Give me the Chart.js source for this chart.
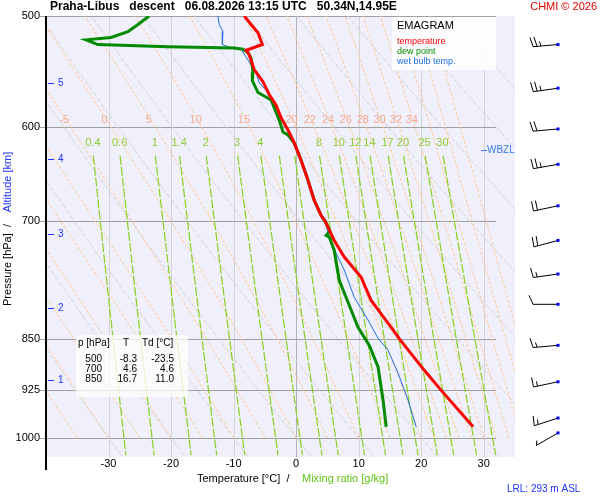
<!DOCTYPE html>
<html><head><meta charset="utf-8">
<script src="https://cdn.jsdelivr.net/npm/chart.js@4/dist/chart.umd.min.js"></script>
<style>html,body{margin:0;background:#fff}#wrap{width:600px;height:500px}</style>
</head><body><div id="wrap"><canvas id="c"></canvas></div>
<script>
// profile data: pressure [hPa], temperature [°C]
var tempP = [500,507,514,524,529,533,546,557,569,579,591,603,616,634,653,677,694,700,723,743,768,798,834,852,895,925,982];
var tempT = [-8.3,-7.2,-6.1,-5.4,-8.0,-7.5,-6.7,-5.3,-4.3,-3.2,-2.4,-1.3,-0.3,0.8,1.8,2.9,4.0,4.6,6.1,7.7,10.4,12.0,15.2,16.7,20.5,23.2,28.3];
var dewP = [500,507,513,518,520,524,526,527,528,531,536,548,556,567,574,595,605,608,616,634,653,677,694,700,712,717,719,735,772,794,834,859,890,940,982];
var dewT = [-23.5,-25.3,-26.9,-29.6,-33.6,-31.7,-20.5,-9.9,-8.5,-7.7,-7.2,-6.9,-7.0,-6.1,-4.0,-2.6,-2.1,-1.3,-0.3,0.8,1.8,2.9,4.0,4.6,5.4,4.8,5.3,6.1,6.9,8.0,9.9,11.7,13.1,13.9,14.4];
var wetP = [500,507,513,524,526,528,549,558,567,573,579,591,603,616,634,653,677,694,700,726,759,794,824,849,866,899,940,982];
var wetT = [-12.5,-12.3,-11.7,-11.8,-10.9,-8.8,-6.4,-5.9,-4.5,-4.0,-3.2,-2.4,-1.3,-0.3,0.8,1.8,2.9,4.0,4.6,5.6,7.7,9.3,11.5,13.1,14.7,16.3,17.9,19.2];

// wind barbs
var windP = [524,563,602,638,683,723,764,803,859,912,968,992];
var windDir = [265,262,265,260,258,255,262,270,265,258,252,240];
var windKt = [25,25,20,25,20,20,15,10,15,15,15,5];

// diagram furniture
var pTicks = [500,600,700,850,925,1000];
var tTicks = [-30,-20,-10,0,10,20,30];
var thetaW = [-40,-35,-30,-25,-20,-15,-10,-5,0,5,10,15,20,22,24,26,28,30,32,34,36,38,40];
var thetaWLabels = [-5,0,5,10,15,20,22,24,26,28,30,32,34];
var theta = [-30,-20,-10,0,10,20,30,40,50,60,70,80,90];
var mixRatio = [0.4,0.6,1,1.4,2,3,4,5,6,8,10,12,14,17,20,25,30];
var altKm = [1,2,3,4,5];
var altP = [909,808,715,632,558];
var tableRows = [['500','-8.3','-23.5'],['700','4.6','4.6'],['850','16.7','11.0']];

function es(tc) { return 6.112 * Math.exp(17.67 * tc / (tc + 243.5)); }
function moistLine(tw) {
    var pts = [], T = tw + 273.15, p = 1000;
    pts.push({x: tw, y: 1000});
    while (p > 500) {
        var e = es(T - 273.15), rs = 0.622 * e / (p - e);
        var dTdp = (287 * T + 2.5e6 * rs) / (1005 + 2.5e6 * 2.5e6 * rs * 0.622 / (287 * T * T)) / p;
        T -= dTdp * 5; p -= 5;
        pts.push({x: T - 273.15, y: p});
    }
    return pts;
}
function dryLine(th) {
    var pts = [];
    for (var p = 1040; p >= 490; p -= 10) pts.push({x: (th + 273.15) * Math.pow(p / 1000, 0.286) - 273.15, y: p});
    return pts;
}
function mixTd(w, p) {
    var e = w * p / (622 + w), l = Math.log(e / 6.112);
    return 243.5 * l / (17.67 - l);
}
function mixLine(w) {
    var pts = [];
    for (var p = 629; p <= 1040; p += 20) pts.push({x: mixTd(w, p), y: p});
    return pts;
}
function zip(ps, ts) { return ps.map(function (p, i) { return {x: ts[i], y: p}; }); }

var FONT = "'Liberation Sans', Arial, sans-serif";
var datasets = [];
theta.forEach(function (th) {
    datasets.push({data: dryLine(th), borderColor: '#d2d2d6', borderWidth: 1, borderDash: [5, 2], order: 10});
});
thetaW.forEach(function (tw) {
    datasets.push({data: moistLine(tw), borderColor: '#ffc88c', borderWidth: 1, borderDash: [3, 2], order: 9});
});
mixRatio.forEach(function (w) {
    datasets.push({data: mixLine(w), borderColor: '#88d01c', borderWidth: 1.2, borderDash: [9, 2], order: 8});
});
datasets.push({data: zip(wetP, wetT), borderColor: '#1e6fe6', borderWidth: 1, order: 3});
datasets.push({data: zip(dewP, dewT), borderColor: '#008a00', borderWidth: 3, order: 2});
datasets.push({data: zip(tempP, tempT), borderColor: '#ff0000', borderWidth: 3, order: 1});
datasets.forEach(function (d) { d.showLine = true; d.pointRadius = 0; d.tension = 0; d.fill = false; });

var backPlugin = {
    id: 'back',
    beforeDatasetsDraw: function (chart) {
        var ctx = chart.ctx, a = chart.chartArea, xs = chart.scales.x, ys = chart.scales.y;
        ctx.save();
        ctx.fillStyle = '#f0f0fc';
        ctx.fillRect(a.left, a.top, a.right - a.left, a.bottom - a.top);
        ctx.lineWidth = 1;
        tTicks.forEach(function (t) {
            var x = Math.round(xs.getPixelForValue(t)) + 0.5;
            ctx.strokeStyle = t === 0 ? '#b4b4b4' : '#d4d4d4';
            ctx.beginPath(); ctx.moveTo(x, a.top); ctx.lineTo(x, a.bottom); ctx.stroke();
        });
        ctx.strokeStyle = '#a0a0a0';
        pTicks.forEach(function (p) {
            var y = Math.round(ys.getPixelForValue(p)) + 0.5;
            ctx.beginPath(); ctx.moveTo(40, y); ctx.lineTo(496, y); ctx.stroke();
        });
        // isoline labels
        ctx.font = '11px ' + FONT;
        ctx.textAlign = 'center'; ctx.textBaseline = 'middle';
        ctx.fillStyle = '#f4a890';
        thetaWLabels.forEach(function (tw) {
            var pts = moistLine(tw), pt = pts.filter(function (q) { return q.y <= 592; })[0];
            ctx.fillText(String(tw), xs.getPixelForValue(pt.x), ys.getPixelForValue(600) - 7);
        });
        ctx.fillStyle = '#8ccc2a';
        mixRatio.forEach(function (w) {
            if (w === 5 || w === 6) return;
            ctx.fillText(String(w), xs.getPixelForValue(mixTd(w, 625)), ys.getPixelForValue(616));
        });
        ctx.restore();
    },
    afterDraw: function (chart) {
        var ctx = chart.ctx, a = chart.chartArea, xs = chart.scales.x, ys = chart.scales.y;
        ctx.save();
        // left axis line
        ctx.strokeStyle = '#000'; ctx.lineWidth = 2;
        ctx.beginPath(); ctx.moveTo(a.left, a.top); ctx.lineTo(a.left, 470); ctx.stroke();
        // title
        ctx.textBaseline = 'middle'; ctx.textAlign = 'left';
        ctx.fillStyle = '#000'; ctx.font = 'bold 12px ' + FONT;
        ctx.fillText('Praha-Libus   descent   06.08.2026 13:15 UTC   50.34N,14.95E', 50, 7);
        ctx.textAlign = 'right'; ctx.fillStyle = '#e00000'; ctx.font = '11px ' + FONT;
        ctx.fillText('CHMI © 2026', 597, 7);
        // legend box
        ctx.fillStyle = 'rgba(255,255,255,0.85)';
        ctx.fillRect(392, 17, 104, 53);
        ctx.textAlign = 'left';
        ctx.fillStyle = '#000'; ctx.font = '11px ' + FONT; ctx.fillText('EMAGRAM', 397, 26);
        ctx.font = '9px ' + FONT;
        ctx.fillStyle = '#ff0000'; ctx.fillText('temperature', 397, 42);
        ctx.fillStyle = '#008a00'; ctx.fillText('dew point', 397, 52);
        ctx.fillStyle = '#1e6fe6'; ctx.fillText('wet bulb temp.', 397, 62);
        // table
        ctx.fillStyle = 'rgba(255,255,255,0.75)';
        ctx.fillRect(76, 335, 112, 62);
        ctx.fillStyle = '#000'; ctx.font = '10px ' + FONT;
        ctx.textAlign = 'left';
        ctx.fillText('p [hPa]', 78, 343); ctx.fillText('T', 123, 343); ctx.fillText('Td [°C]', 142, 343);
        tableRows.forEach(function (r, i) {
            var y = 359 + i * 10;
            ctx.textAlign = 'right';
            ctx.fillText(r[0], 102, y); ctx.fillText(r[1], 137, y); ctx.fillText(r[2], 174, y);
        });
        // altitude ticks
        ctx.strokeStyle = '#1e32ff'; ctx.fillStyle = '#1e32ff'; ctx.lineWidth = 1;
        ctx.textAlign = 'left'; ctx.font = '10px ' + FONT;
        altKm.forEach(function (k, i) {
            var y = Math.round(ys.getPixelForValue(altP[i])) + 0.5;
            ctx.beginPath(); ctx.moveTo(48, y); ctx.lineTo(54, y); ctx.stroke();
            ctx.fillText(String(k), 58, y);
        });
        var yw = Math.round(ys.getPixelForValue(623)) + 0.5;
        ctx.strokeStyle = '#3a7be0'; ctx.fillStyle = '#3a7be0';
        ctx.beginPath(); ctx.moveTo(481, yw); ctx.lineTo(487, yw); ctx.stroke();
        ctx.fillText('WBZL', 487, yw);
        // axis titles
        ctx.font = '11px ' + FONT; ctx.textAlign = 'left';
        ctx.fillStyle = '#000'; ctx.fillText('Temperature [°C]  /', 197, 479);
        ctx.fillStyle = '#5cc414'; ctx.fillText('Mixing ratio [g/kg]', 302, 479);
        ctx.fillStyle = '#1e32ff'; ctx.font = '10px ' + FONT; ctx.fillText('LRL: 293 m ASL', 507, 489);
        ctx.save();
        ctx.translate(8, 240); ctx.rotate(-Math.PI / 2);
        ctx.font = '11px ' + FONT; ctx.textAlign = 'center';
        ctx.fillStyle = '#000'; ctx.fillText('Pressure [hPa]  /', -25, 0);
        ctx.fillStyle = '#1e32ff'; ctx.fillText('Altitude [km]', 58, 0);
        ctx.restore();
        // wind barbs
        ctx.strokeStyle = '#000'; ctx.lineWidth = 1;
        windP.forEach(function (p, i) {
            var y = ys.getPixelForValue(p), x0 = 558;
            var r = windDir[i] * Math.PI / 180, ux = Math.sin(r), uy = -Math.cos(r);
            var L = 25, ex = x0 + ux * L, ey = y + uy * L;
            ctx.beginPath(); ctx.moveTo(x0, y); ctx.lineTo(ex, ey); ctx.stroke();
            var px = uy, py = -ux; // perpendicular, pointing up
            var kt = windKt[i], k = 0;
            while (kt >= 5) {
                var len = kt >= 10 ? 10 : 5;
                var sx = ex - ux * k * 4, sy = ey - uy * k * 4;
                ctx.beginPath(); ctx.moveTo(sx, sy);
                ctx.lineTo(sx + (px * 0.9 + ux * 0.4) * len, sy - Math.abs(py * 0.9 + uy * 0.4) * len);
                ctx.stroke();
                kt -= len; k++;
            }
            ctx.fillStyle = '#0000ff';
            ctx.fillRect(x0 - 1.5, y - 1.5, 3, 3);
        });
        ctx.restore();
    }
};

new Chart(document.getElementById('c'), {
    type: 'scatter',
    data: {datasets: datasets},
    options: {
        responsive: true,
        maintainAspectRatio: false,
        animation: false,
        layout: {padding: {left: 0, top: 16, right: 85, bottom: 0}},
        plugins: {legend: {display: false}, tooltip: {enabled: false}},
        scales: {
            x: {
                type: 'linear', min: -40, max: 35,
                grid: {display: false, drawTicks: false}, border: {display: false},
                afterBuildTicks: function (s) { s.ticks = tTicks.map(function (v) { return {value: v}; }); },
                afterFit: function (s) { s.height = 43; },
                ticks: {color: '#000', padding: 0, font: {size: 11, family: FONT}}
            },
            y: {
                type: 'logarithmic', min: 500, max: 1032, reverse: true,
                grid: {display: false, drawTicks: false}, border: {display: false},
                afterBuildTicks: function (s) { s.ticks = pTicks.map(function (v) { return {value: v}; }); },
                afterFit: function (s) { s.width = 46; },
                ticks: {color: '#000', padding: 6, font: {size: 11, family: FONT},
                    callback: function (v) { return String(v); }}
            }
        }
    },
    plugins: [backPlugin]
});
</script></body></html>
